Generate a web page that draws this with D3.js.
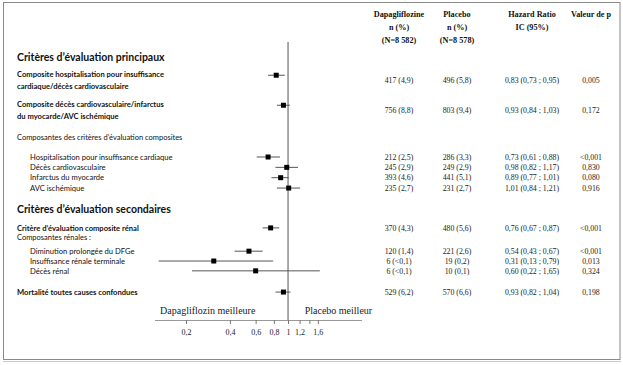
<!DOCTYPE html>
<html><head><meta charset="utf-8">
<script src="https://cdn.jsdelivr.net/npm/d3@7"></script>
<style>body{margin:0;background:#fff}svg{display:block}
.serif{font-family:"Liberation Serif","Times New Roman","DejaVu Serif",serif}
.sans{font-family:Lato,"Open Sans",sans-serif}</style>
</head><body><svg id="c" width="623" height="365"></svg>
<script>
// ---------- data ----------
const endpoints = [
  "Composite hospitalisation pour insuffisance|cardiaque/décès cardiovasculaire",
  "Composite décès cardiovasculaire/infarctus|du myocarde/AVC ischémique",
  "Hospitalisation pour insuffisance cardiaque",
  "Décès cardiovasculaire",
  "Infarctus du myocarde",
  "AVC ischémique",
  "Critère d’évaluation composite rénal",
  "Diminution prolongée du DFGe",
  "Insuffisance rénale terminale",
  "Décès rénal",
  "Mortalité toutes causes confondues"
];
const dapaN    = ["417 (4,9)","756 (8,8)","212 (2,5)","245 (2,9)","393 (4,6)","235 (2,7)","370 (4,3)","120 (1,4)","6 (<0,1)","6 (<0,1)","529 (6,2)"];
const placeboN = ["496 (5,8)","803 (9,4)","286 (3,3)","249 (2,9)","441 (5,1)","231 (2,7)","480 (5,6)","221 (2,6)","19 (0,2)","10 (0,1)","570 (6,6)"];
const hr     = [0.83,0.93,0.73,0.98,0.89,1.01,0.76,0.54,0.31,0.60,0.93];
const ciLow  = [0.73,0.84,0.61,0.82,0.77,0.84,0.67,0.43,0.13,0.22,0.82];
const ciHigh = [0.95,1.03,0.88,1.17,1.01,1.21,0.87,0.67,0.79,1.65,1.04];
const pValues = ["0,005","0,172","<0,001","0,830","0,080","0,916","<0,001","<0,001","0,013","0,324","0,198"];
const headers = [
  ["Dapagliflozine","n (%)","(N=8 582)"],
  ["Placebo","n (%)","(N=8 578)"],
  ["Hazard Ratio","IC (95%)"],
  ["Valeur de p"]
];
const sectionTitles = ["Critères d’évaluation principaux","Critères d’évaluation secondaires"];
const subTitles = ["Composantes des critères d’évaluation composites","Composantes rénales :"];
const tickValues = [0.2,0.4,0.6,0.8,1,1.2,1.4,1.6];
const tickLabels = ["0,2","0,4","0,6","0,8","1","1,2","","1,6"];
const favourLabels = ["Dapagliflozin meilleure","Placebo meilleur"];

// ---------- layout ----------
const fmt = v => d3.format(".2f")(v).replace(".", ",");
const svg = d3.select("#c");
const lineY = d3.scaleLinear().domain([0,1]).range([157,167.35]);
const rowLine  = [-7.9,-5.0,0,1,2,3,6.85,9.1,10.05,11.0,13.05];
const rowBold  = [true,true,false,false,false,false,true,false,false,false,true];
const rowIndent= [false,false,true,true,true,true,false,true,true,true,false];
const sectionLine = [-9.66,5.03];
const subLine = [-1.93,7.72];
const X = d3.scaleLog().domain([0.1227,3.21]).range([155,362]);
const colX = [399,457,532,591];
const axisY = 320;

// frame
svg.append("rect").attr("x",3.5).attr("y",2.5).attr("width",616.5).attr("height",357)
  .attr("fill","none").attr("stroke","#8a8a8a").attr("stroke-width",1);
svg.append("line").attr("x1",3).attr("x2",621).attr("y1",361.5).attr("y2",361.5).attr("stroke","#c8c8c8");

// headers
headers.forEach((h,i)=>{
  h.forEach((t,j)=>{
    svg.append("text").attr("class","serif").attr("x",colX[i]).attr("y",17+j*13).attr("text-anchor","middle")
      .style("font-weight","bold").style("font-size","8.2px").attr("fill","#111").text(t);
  });
});

// section titles
sectionTitles.forEach((t,i)=>{
  svg.append("text").attr("class","sans").attr("x",17).attr("y",lineY(sectionLine[i])).attr("dy","0.35em")
    .style("font-weight","bold").style("font-size","10.5px").attr("fill","#111").text(t);
});
subTitles.forEach((t,i)=>{
  svg.append("text").attr("class","sans").attr("x",17).attr("y",lineY(subLine[i])).attr("dy","0.35em")
    .style("font-size","7.5px").attr("fill","#111").text(t);
});

// row labels
endpoints.forEach((lab,i)=>{
  const parts = lab.split("|");
  const baseLine = parts.length>1 ? rowLine[i]-0.1 : rowLine[i];
  parts.forEach((p,j)=>{
    svg.append("text").attr("class","sans").attr("x",rowIndent[i]?30:17).attr("y",lineY(baseLine + j*1.2)).attr("dy","0.35em")
      .style("font-weight",rowBold[i]?"bold":"normal")
      .style("font-size","7.6px").attr("fill","#111").text(p);
  });
});

// values
const valOffset = i => endpoints[i].includes("|") ? 0.45 : 0;
const cols = [dapaN, placeboN, hr.map((v,i)=>`${fmt(v)} (${fmt(ciLow[i])} ; ${fmt(ciHigh[i])})`), pValues];
cols.forEach((arr,c)=>{
  svg.append("g").selectAll("text").data(arr).join("text").attr("class","serif")
    .attr("x",colX[c]).attr("y",(d,i)=>lineY(rowLine[i]+valOffset(i))).attr("dy","0.35em")
    .attr("text-anchor","middle").style("font-size","7.8px").attr("fill","#222").text(d=>d);
});

// reference line
svg.append("line").attr("x1",X(1)).attr("x2",X(1)).attr("y1",42).attr("y2",axisY)
  .attr("stroke","#555").attr("stroke-width",1);

// CIs and markers
const g = svg.append("g");
g.selectAll("line.ci").data(hr).join("line").attr("class","ci")
  .attr("x1",(d,i)=>X(ciLow[i])).attr("x2",(d,i)=>X(ciHigh[i]))
  .attr("y1",(d,i)=>lineY(rowLine[i])).attr("y2",(d,i)=>lineY(rowLine[i]))
  .attr("stroke","#555").attr("stroke-width",1);
g.selectAll("rect").data(hr).join("rect")
  .attr("x",d=>X(d)-2.5).attr("y",(d,i)=>lineY(rowLine[i])-2.5)
  .attr("width",5).attr("height",5).attr("fill","#000");

// axis
const axis = d3.axisBottom(X).tickValues(tickValues).tickSize(4).tickPadding(5)
  .tickFormat((d,i)=>tickLabels[i]);
const ag = svg.append("g").attr("transform",`translate(0,${axisY})`).call(axis);
ag.attr("font-family",null).attr("font-size",null);
ag.select(".domain").attr("d",`M${X.range()[0]},0.5H${X.range()[1]}`).attr("stroke","#999");
ag.selectAll(".tick line").attr("stroke","#777");
ag.selectAll(".tick text").attr("class","serif").style("font-size","8px").attr("fill","#222");

// favour labels
svg.append("text").attr("class","serif").attr("x",X(0.133)).attr("y",310).attr("dy","0.35em")
  .style("font-size","10px").attr("fill","#222").text(favourLabels[0]);
svg.append("text").attr("class","serif").attr("x",X(1.3)).attr("y",310).attr("dy","0.35em")
  .style("font-size","10px").attr("fill","#222").text(favourLabels[1]);
</script></body></html>
